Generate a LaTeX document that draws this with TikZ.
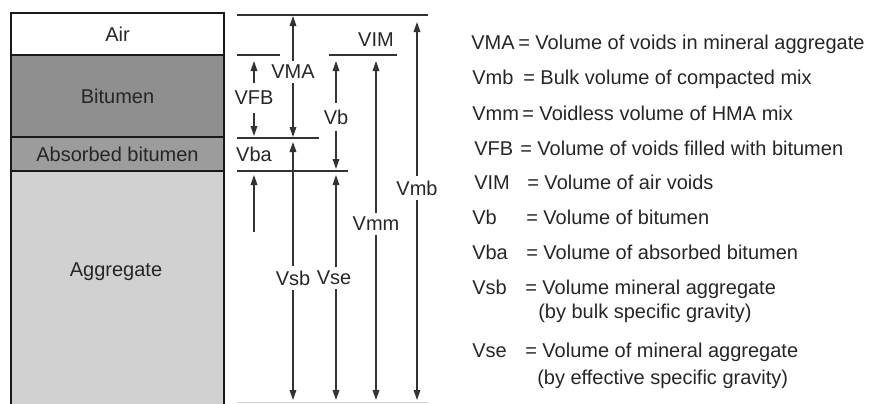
\documentclass[tikz,border=0pt]{standalone}
\usepackage{fontspec}
\setmainfont{Liberation Sans}
\usetikzlibrary{arrows.meta}

\begin{document}
\begin{tikzpicture}[x=0.75pt, y=-0.75pt,
    layer/.style={draw=black!90, line width=1.5pt, fill=#1, minimum width=159.75pt,
                  inner sep=0pt, font=\fontsize{15}{18}\selectfont, text=black!85},
    txt/.style={font=\fontsize{15}{18}\selectfont, text=black!85, inner sep=3pt},
    leg/.style={txt, anchor=base west, inner sep=0pt},
    lvl/.style={black!80, line width=0.9pt},
    arr/.style={-{Triangle[length=7.5pt, width=5pt]}, black!80, line width=0.9pt}
  ]
  \useasboundingbox (0,0) rectangle (876,404);

  % Layers of the mix
  \node[layer=white, minimum height=31.5pt] (air) at (117.5,34) {Air};
  \node[layer=black!44, minimum height=61.5pt] (bit) at (117.5,96) {Bitumen};
  \node[layer=black!39, minimum height=25.5pt] (abs) at (117.5,154) {Absorbed bitumen};
  \node[layer=black!18, minimum height=179.25pt] (agg) at (117.5,290.5) {};
  \node[txt] (aggtxt) at (116,272) {Aggregate};

  % Level lines
  \coordinate (l0a) at (237,15);  \coordinate (l0b) at (428,15);
  \coordinate (l1a) at (237,55);  \coordinate (l1b) at (280,55);
  \coordinate (l1c) at (329,55);  \coordinate (l1d) at (397,55);
  \coordinate (l2a) at (237,138); \coordinate (l2b) at (319,138);
  \coordinate (l3a) at (237,171); \coordinate (l3b) at (348,171);
  \coordinate (l4a) at (237,402); \coordinate (l4b) at (428,402);
  \draw[lvl] (l0a) -- (l0b);
  \draw[lvl] (l1a) -- (l1b);
  \draw[lvl] (l1c) -- (l1d);
  \draw[lvl] (l2a) -- (l2b);
  \draw[lvl] (l3a) -- (l3b);
  \draw[black!18, line width=0.6pt] (l4a) -- (l4b);

  % Dimension labels
  \node[txt, inner ysep=6pt] (vfb) at (254,98) {VFB};
  \node[txt] (vma) at (293,72) {VMA};
  \node[txt, inner ysep=5pt] (vb) at (336,117) {Vb};
  \node[txt] (vim) at (376,40) {VIM};
  \node[txt] (vba) at (254,154) {Vba};
  \node[txt] (vsb) at (293,278) {Vsb};
  \node[txt] (vse) at (334,278) {Vse};
  \node[txt] (vmm) at (376,224) {Vmm};
  \node[txt] (vmb) at (417,188) {Vmb};

  % Arrow ends
  \coordinate (vfbT) at (254,61);  \coordinate (vfbB) at (254,136);
  \coordinate (vmaT) at (293,16);  \coordinate (vmaB) at (293,137);
  \coordinate (vbT) at (336,61);   \coordinate (vbB) at (336,169);
  \coordinate (vbaS) at (254,232); \coordinate (vbaT) at (254,175);
  \coordinate (vsbT) at (293,142); \coordinate (vsbB) at (293,400);
  \coordinate (vseT) at (336,175); \coordinate (vseB) at (336,400);
  \coordinate (vmmT) at (376,61);  \coordinate (vmmB) at (376,400);
  \coordinate (vmbT) at (417,22);  \coordinate (vmbB) at (417,400);

  % Arrows
  \draw[arr] (vfb) -- (vfbT);
  \draw[arr] (vfb) -- (vfbB);
  \draw[arr] (vma) -- (vmaT);
  \draw[arr] (vma) -- (vmaB);
  \draw[arr] (vb) -- (vbT);
  \draw[arr] (vb) -- (vbB);
  \draw[arr] (vbaS) -- (vbaT);
  \draw[arr] (vsb) -- (vsbT);
  \draw[arr] (vsb) -- (vsbB);
  \draw[arr] (vseT |- vse.north) -- (vseT);
  \draw[arr] (vseB |- vse.south) -- (vseB);
  \draw[arr] (vmm) -- (vmmT);
  \draw[arr] (vmm) -- (vmmB);
  \draw[arr] (vmb) -- (vmbT);
  \draw[arr] (vmb) -- (vmbB);

  % Legend
  \node[leg] (kVMA) at (471,49) {VMA};
  \node[leg] (dVMA) at (518,49) {= Volume of voids in mineral aggregate};
  \node[leg] (kVmb) at (472,84) {Vmb};
  \node[leg] (dVmb) at (523,84) {= Bulk volume of compacted mix};
  \node[leg] (kVmm) at (472,120) {Vmm};
  \node[leg] (dVmm) at (522,120) {= Voidless volume of HMA mix};
  \node[leg] (kVFB) at (474,155) {VFB};
  \node[leg] (dVFB) at (520,155) {= Volume of voids filled with bitumen};
  \node[leg] (kVIM) at (474,189) {VIM};
  \node[leg] (dVIM) at (527,189) {= Volume of air voids};
  \node[leg] (kVb) at (472,224) {Vb};
  \node[leg] (dVb) at (526,224) {= Volume of bitumen};
  \node[leg] (kVba) at (472,259) {Vba};
  \node[leg] (dVba) at (526,259) {= Volume of absorbed bitumen};
  \node[leg] (kVsb) at (472,294) {Vsb};
  \node[leg] (dVsb) at (525,294) {= Volume mineral aggregate};
  \node[leg] (dVsb2) at (538,318) {(by bulk specific gravity)};
  \node[leg] (kVse) at (472,357) {Vse};
  \node[leg] (dVse) at (525,357) {= Volume of mineral aggregate};
  \node[leg] (dVse2) at (537,384) {(by effective specific gravity)};

\end{tikzpicture}
\end{document}
